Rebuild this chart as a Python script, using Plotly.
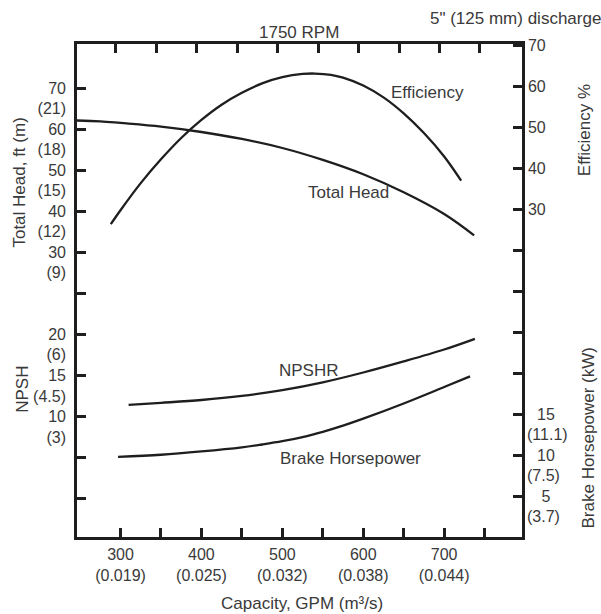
import plotly.graph_objects as go

# ---------------- data ----------------
gpm_head = [246, 275, 300, 350, 400, 450, 500, 550, 600, 650, 700, 737]
head_ft = [62.1, 61.9, 61.5, 60.6, 59.3, 57.6, 55.4, 52.5, 49.0, 44.6, 39.3, 34.1]

gpm_eff = [288, 300, 325, 350, 375, 400, 425, 450, 475, 500, 525, 540, 560, 575, 600,
           625, 650, 675, 700, 721]
eff_pct = [26.4, 29.8, 36.4, 42.2, 47.4, 51.8, 55.5, 58.4, 60.7, 62.2, 63.0, 63.1, 62.8,
           62.1, 60.2, 57.3, 53.4, 48.6, 42.9, 37.0]

gpm_npsh = [310, 350, 400, 450, 500, 550, 600, 650, 700, 738]
npshr_ft = [11.4, 11.65, 12.0, 12.5, 13.2, 14.15, 15.35, 16.7, 18.15, 19.45]

gpm_bhp = [297, 350, 400, 450, 475, 500, 525, 550, 575, 600, 650, 700, 732]
bhp_hp = [9.8, 10.05, 10.45, 10.95, 11.3, 11.7, 12.2, 12.85, 13.6, 14.45, 16.3, 18.3, 19.6]

x_ticks = [300, 350, 400, 450, 500, 550, 600, 650, 700, 750]
x_text = ["300<br>(0.019)", "", "400<br>(0.025)", "", "500<br>(0.032)", "",
          "600<br>(0.038)", "", "700<br>(0.044)", ""]

head_tick_marks = [-30, -20, -10, 0, 10, 20, 30, 40, 50, 60, 70]
head_label_vals = [70, 65, 60, 55, 50, 45, 40, 35, 30, 25]
head_label_text = ["70", "(21)", "60", "(18)", "50", "(15)", "40", "(12)", "30", "(9)"]

npsh_label_vals = [20, 17.5, 15, 12.5, 10, 7.5]
npsh_label_text = ["20", "(6)", "15", "(4.5)", "10", "(3)"]

eff_tick_marks = [-40, -30, -20, -10, 0, 10, 20, 30, 40, 50, 60, 70]
eff_tick_text = ["", "", "", "", "", "", "", "30", "40", "50", "60", "70"]

bhp_vals = [15, 10, 5]
bhp_text = ["15", "10", "\u00a05"]
bhp_kw_vals = [12.5, 7.5, 2.5]
bhp_kw_text = ["(11.1)", "(7.5)", "(3.7)"]

# ---------------- layout geometry ----------------
W, H = 601, 614
ML, MR, MT, MB = 77.25, 79.25, 44.25, 77.25
X0, X1 = ML, W - MR
Y0, Y1 = MT, H - MB


def pxx(x):
    return (x - X0) / (X1 - X0)


def pxy(y):
    return (Y1 - y) / (Y1 - Y0)


INK = "#1e1e1e"
TXT = "#3a3a3a"
FONT = "Liberation Sans, Arial, Helvetica, sans-serif"
LW = 2.5
TICKF = dict(family=FONT, size=16, color=TXT)

fig = go.Figure()
line = dict(color=INK, width=2.3, shape="spline", smoothing=1.0, simplify=False)
fig.add_trace(go.Scatter(x=gpm_head, y=head_ft, mode="lines", line=line,
                         xaxis="x", yaxis="y", name="Total Head", hoverinfo="skip"))
fig.add_trace(go.Scatter(x=gpm_eff, y=eff_pct, mode="lines", line=line,
                         xaxis="x", yaxis="y2", name="Efficiency", hoverinfo="skip"))
fig.add_trace(go.Scatter(x=gpm_npsh, y=npshr_ft, mode="lines", line=line,
                         xaxis="x", yaxis="y3", name="NPSHR", hoverinfo="skip"))
fig.add_trace(go.Scatter(x=gpm_bhp, y=bhp_hp, mode="lines", line=line,
                         xaxis="x", yaxis="y4", name="Brake Horsepower", hoverinfo="skip"))
# empty carriers so the label-only axes get drawn
for ax in ("y5", "y6"):
    fig.add_trace(go.Scatter(x=[None], y=[None], mode="lines", xaxis="x", yaxis=ax,
                             hoverinfo="skip", showlegend=False))
fig.add_trace(go.Scatter(x=[None], y=[None], mode="lines", xaxis="x2", yaxis="y",
                         hoverinfo="skip", showlegend=False))

common = dict(showgrid=False, zeroline=False, fixedrange=True)

fig.update_layout(
    width=W, height=H,
    margin=dict(l=ML, r=MR, t=MT, b=MB, pad=0, autoexpand=False),
    paper_bgcolor="white", plot_bgcolor="white",
    showlegend=False,
    font=dict(family=FONT, color=TXT),
    xaxis=dict(range=[246.24, 796.2], tickmode="array", tickvals=x_ticks, ticktext=x_text,
               ticks="inside", ticklen=9, tickwidth=LW, tickcolor=INK,
               showline=True, linecolor=INK, linewidth=LW, tickfont=TICKF,
               ticklabelstandoff=1, **common),
    xaxis2=dict(range=[252.06, 801.96], overlaying="x", side="top", anchor="y",
                tickmode="array", tickvals=x_ticks, showticklabels=False,
                ticks="inside", ticklen=9, tickwidth=LW, tickcolor=INK,
                showline=True, linecolor=INK, linewidth=LW, **common),
    yaxis=dict(range=[-39.38, 80.74], tickmode="array", tickvals=head_tick_marks,
               showticklabels=False, ticks="inside", ticklen=9, tickwidth=LW, tickcolor=INK,
               showline=True, linecolor=INK, linewidth=LW, **common),
    yaxis5=dict(range=[-39.38, 80.74], overlaying="y", side="left", anchor="x",
                tickmode="array", tickvals=head_label_vals, ticktext=head_label_text,
                ticks="", showline=False, tickfont=TICKF, ticklabelstandoff=10, **common),
    yaxis3=dict(range=[-4.69, 55.37], overlaying="y", side="left", anchor="x",
                tickmode="array", tickvals=npsh_label_vals, ticktext=npsh_label_text,
                ticks="", showline=False, tickfont=TICKF, ticklabelstandoff=10, **common),
    yaxis2=dict(range=[-49.82, 70.30], overlaying="y", side="right", anchor="x",
                tickmode="array", tickvals=eff_tick_marks, ticktext=eff_tick_text,
                ticks="inside", ticklen=9, tickwidth=LW, tickcolor=INK,
                showline=True, linecolor=INK, linewidth=LW, tickfont=TICKF, **common),
    yaxis4=dict(range=[0.03, 60.09], overlaying="y", side="right", anchor="x",
                tickmode="array", tickvals=bhp_kw_vals, ticktext=bhp_kw_text,
                ticks="", showline=False, tickfont=TICKF, ticklabelstandoff=4, **common),
    yaxis6=dict(range=[0.03, 60.09], overlaying="y", side="right", anchor="x",
                tickmode="array", tickvals=bhp_vals, ticktext=bhp_text,
                ticks="", showline=False, tickfont=TICKF, ticklabelstandoff=14, **common),
)


def note(text, x, y, angle=0, xanchor="center", size=17):
    fig.add_annotation(text=text, x=pxx(x), y=pxy(y), xref="paper", yref="paper",
                       showarrow=False, textangle=angle, xanchor=xanchor, yanchor="middle",
                       font=dict(family=FONT, size=size, color=TXT))


note("Efficiency", 427, 93)
note("Total Head", 348, 193)
note("NPSHR", 308.5, 370)
note("Brake Horsepower", 350.5, 458)
note("1750 RPM", 299, 33)
note('5" (125 mm) discharge', 428, 19, xanchor="left")
note("Capacity, GPM (m³/s)", 302, 603.5)
note("Total Head, ft (m)", 20, 183, angle=-90)
note("NPSH", 22, 389, angle=-90)
note("Efficiency %", 585, 130, angle=-90)
note("Brake Horsepower (kW)", 588, 438, angle=-90)

fig.write_html("out.html", config={"displayModeBar": False},
               post_script="document.body.style.margin='0px';")
